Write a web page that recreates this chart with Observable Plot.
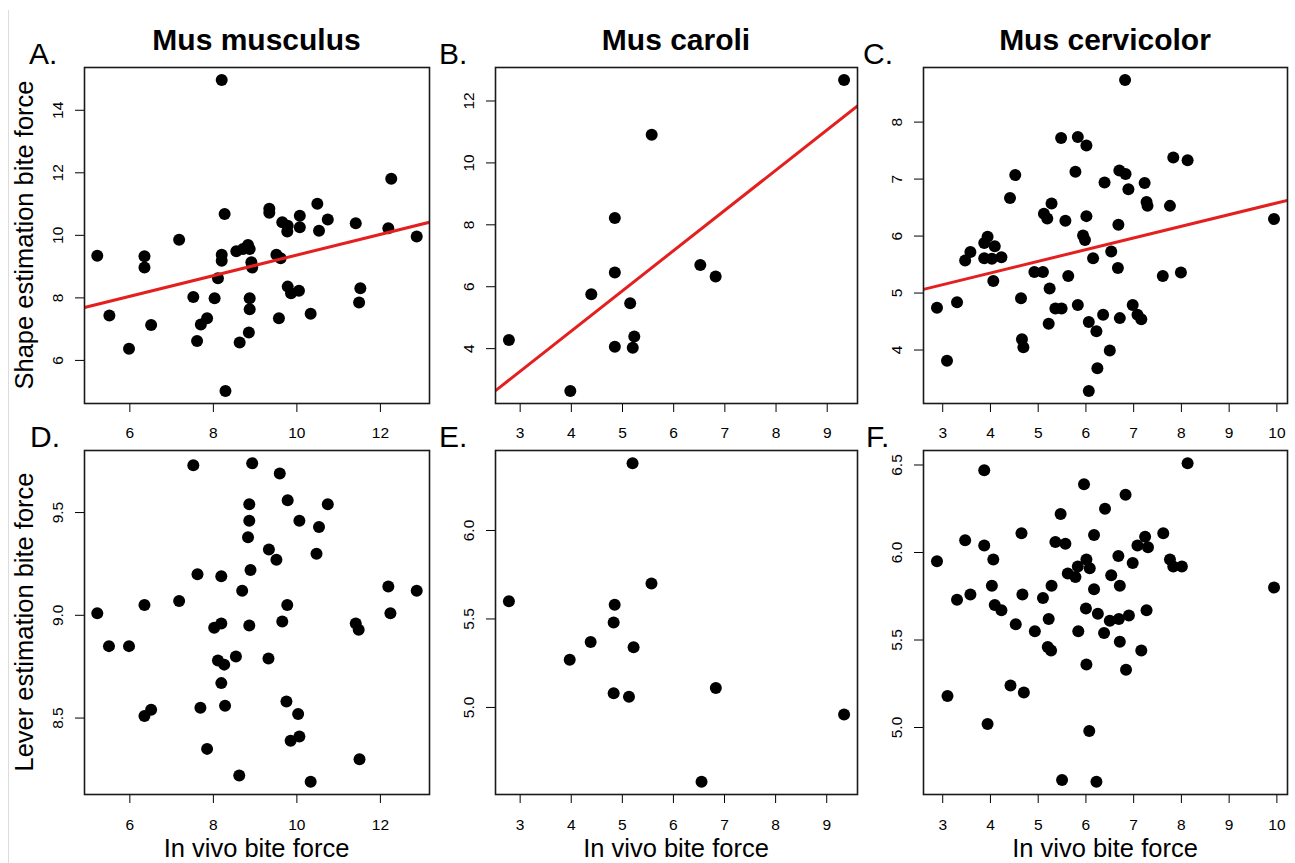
<!DOCTYPE html>
<html>
<head>
<meta charset="utf-8">
<script src="https://cdn.jsdelivr.net/npm/d3@7"></script>
<script src="https://cdn.jsdelivr.net/npm/@observablehq/plot@0.6"></script>
<style>
  html, body { margin: 0; padding: 0; background: #fff; }
  #page { position: relative; width: 1295px; height: 863px; overflow: hidden; background: #fff;
          font-family: "Liberation Sans", Arial, Helvetica, sans-serif; }
  .panel { position: absolute; }
  .panel svg { overflow: visible; }
  #edge { position: absolute; left: 8px; top: 10px; width: 0; height: 853px; border-left: 1px solid #dcdcdc; }
</style>
</head>
<body>
<div id="page"><div id="edge"></div></div>
<script>
// ---------- Data ----------
// Mus musculus: in vivo bite force vs shape estimation (A)
const musculusForce = [5.22,5.51,5.98,6.35,6.35,6.51,7.18,7.52,7.61,7.70,7.85,8.03,8.11,8.20,8.20,8.20,8.27,8.29,8.55,8.63,8.71,8.83,8.87,8.85,8.87,8.87,8.91,8.93,9.34,9.34,9.51,9.61,9.57,9.65,9.78,9.77,9.78,9.86,10.05,10.07,10.07,10.33,10.49,10.53,10.74,11.41,11.49,11.52,12.26,12.19,12.87];
const musculusShape = [9.35,7.44,6.37,9.33,8.97,7.13,9.86,8.03,6.62,7.15,7.35,7.99,8.63,14.97,9.38,9.19,10.68,5.02,9.49,6.57,9.56,9.69,9.56,6.89,7.99,7.64,9.14,8.97,10.85,10.72,9.38,9.27,7.35,10.42,10.31,10.12,8.36,8.15,8.23,10.63,10.26,7.49,11.01,10.15,10.51,10.39,7.85,8.31,11.81,10.23,9.96];
// Mus musculus: in vivo bite force vs lever estimation (D)
const musculusLeverForce = [5.22,5.50,5.98,6.35,6.35,6.51,7.18,7.52,7.62,7.69,7.85,8.02,8.19,8.11,8.19,8.26,8.19,8.28,8.54,8.62,8.69,8.86,8.86,8.83,8.89,8.86,8.93,9.33,9.32,9.51,9.59,9.65,9.77,9.78,9.75,9.85,10.03,10.06,10.06,10.33,10.47,10.53,10.74,11.41,11.48,11.50,12.19,12.24,12.87];
const musculusLever = [9.01,8.85,8.85,9.05,8.51,8.54,9.07,9.73,9.20,8.55,8.35,8.94,8.96,8.78,9.19,8.76,8.67,8.56,8.80,8.22,9.12,9.54,9.46,9.38,9.22,8.95,9.74,9.32,8.79,9.27,9.69,8.97,9.05,9.56,8.58,8.39,8.52,8.41,9.46,8.19,9.30,9.43,9.54,8.96,8.93,8.30,9.14,9.01,9.12];

// Mus caroli (B, E)
const caroliForce = [2.78,3.98,4.39,4.85,4.85,4.85,5.15,5.23,5.20,5.57,6.52,6.82,9.33];
const caroliShape = [4.28,2.63,5.76,8.22,6.46,4.06,5.47,4.39,4.03,10.91,6.70,6.33,12.68];
const caroliLeverForce = [2.78,3.97,4.38,4.83,4.85,4.83,5.13,5.22,5.20,5.57,6.55,6.83,9.34];
const caroliLever = [5.60,5.27,5.37,5.48,5.58,5.08,5.06,5.34,6.38,5.70,4.58,5.11,4.96];

// Mus cervicolor (C, F)
const cervicolorForce = [2.88,3.09,3.30,3.47,3.58,3.87,3.94,3.87,4.03,4.09,4.06,4.23,4.41,4.52,4.64,4.66,4.69,4.92,5.10,5.12,5.19,5.28,5.24,5.22,5.36,5.49,5.48,5.57,5.63,5.78,5.83,5.83,5.94,5.98,6.01,6.01,6.06,6.06,6.15,6.22,6.24,6.36,6.39,6.50,6.53,6.67,6.68,6.71,6.70,6.83,6.82,6.89,6.98,7.08,7.16,7.23,7.27,7.29,7.61,7.76,7.83,7.99,8.13,9.94];
const cervicolorShape = [4.74,3.81,4.84,5.57,5.72,5.88,5.99,5.61,5.60,5.82,5.21,5.63,6.67,7.07,4.91,4.19,4.05,5.37,5.37,6.39,6.31,6.57,5.08,4.46,4.73,4.73,7.72,6.27,5.30,7.13,7.74,4.79,6.01,5.93,6.35,7.59,3.28,4.49,5.61,4.33,3.68,4.62,6.94,3.99,5.73,5.44,6.20,4.56,7.15,7.09,8.74,6.82,4.79,4.62,4.54,6.93,6.60,6.53,5.30,6.53,7.38,5.36,7.33,6.30];
const cervicolorLeverForce = [2.88,3.10,3.30,3.47,3.58,3.87,3.87,3.94,4.03,4.06,4.09,4.23,4.42,4.53,4.65,4.67,4.70,4.93,5.10,5.22,5.20,5.27,5.28,5.36,5.47,5.50,5.57,5.62,5.78,5.83,5.84,5.96,6.01,6.00,6.01,6.08,6.07,6.17,6.17,6.22,6.25,6.38,6.40,6.50,6.53,6.68,6.69,6.71,6.71,6.83,6.84,6.90,6.98,7.08,7.16,7.24,7.30,7.27,7.62,7.76,7.83,8.01,8.13,9.94];
const cervicolorLever = [5.95,5.18,5.73,6.07,5.76,6.47,6.04,5.02,5.81,5.96,5.70,5.67,5.24,5.59,6.11,5.76,5.20,5.55,5.74,5.62,5.46,5.44,5.81,6.06,6.22,4.70,6.05,5.88,5.86,5.92,5.55,6.39,5.96,5.68,5.36,5.91,4.98,6.10,5.79,4.69,5.65,5.54,6.25,5.61,5.87,5.98,5.62,5.81,5.49,6.33,5.33,5.64,5.94,6.04,5.44,6.09,6.03,5.67,6.11,5.96,5.92,5.92,6.51,5.80];

// Regression lines (abline)
const musculusFit = {intercept: 6.07, slope: 0.33};
const caroliFit = {intercept: -0.63, slope: 1.30};
const cervicolorFit = {intercept: 4.532, slope: 0.205};

// Tick values
const musculusXTicks = [6, 8, 10, 12];
const caroliXTicks = [3, 4, 5, 6, 7, 8, 9];
const cervicolorXTicks = [3, 4, 5, 6, 7, 8, 9, 10];
const musculusShapeTicks = [6, 8, 10, 12, 14];
const caroliShapeTicks = [4, 6, 8, 10, 12];
const cervicolorShapeTicks = [4, 5, 6, 7, 8];
const musculusLeverTicks = [8.5, 9.0, 9.5];
const caroliLeverTicks = [5.0, 5.5, 6.0];
const cervicolorLeverTicks = [5.0, 5.5, 6.0, 6.5];

// Text
const speciesTitles = ["Mus musculus", "Mus caroli", "Mus cervicolor"];
const panelLetters = ["A.", "B.", "C.", "D.", "E.", "F."];
const yTitles = ["Shape estimation bite force", "Lever estimation bite force"];
const xTitle = "In vivo bite force";

// ---------- Layout ----------
const FONT = '"Liberation Sans", Arial, Helvetica, sans-serif';
const ML = 60, MT = 10, MR = 6, MB = 45;
const cols = [{left: 84, w: 345}, {left: 495, w: 362}, {left: 923, w: 364}];
const rows = [{top: 67, h: 336, pad: 14.7}, {top: 450, h: 344, pad: 15}];

// R-style axis range: data range extended by 4% each side
function rDomain(v) {
  const [a, b] = d3.extent(v);
  const p = (b - a) * 0.04;
  return [a - p, b + p];
}

const page = document.getElementById("page");

function panel(col, row, xs, ys, xTicks, yTicks, yFmt, fit) {
  const c = cols[col], r = rows[row];
  const data = xs.map((x, i) => ({x, y: ys[i]}));
  const xDomain = rDomain(xs), yDomain = rDomain(ys);
  const marks = [
    Plot.dot(data, {x: "x", y: "y", r: 6, fill: "#000", stroke: "none"})
  ];
  if (fit) {
    const lineData = xDomain.map(x => ({x, y: fit.intercept + fit.slope * x}));
    marks.push(Plot.line(lineData, {x: "x", y: "y", stroke: "#e3201f", strokeWidth: 3, clip: true}));
  }
  marks.push(Plot.frame({stroke: "#1a1a1a", strokeWidth: 1.6}));
  const svg = Plot.plot({
    width: ML + c.w + MR,
    height: MT + r.h + MB,
    marginLeft: ML, marginTop: MT, marginRight: MR, marginBottom: MB,
    style: {background: "transparent", color: "#000", fontFamily: FONT, fontSize: "15.5px", overflow: "visible"},
    x: {domain: xDomain, ticks: xTicks, tickSize: 9, tickPadding: r.pad, label: null, tickFormat: d3.format("d")},
    y: {domain: yDomain, ticks: yTicks, tickSize: 9, tickPadding: 12.5, tickRotate: -90, label: null, tickFormat: yFmt},
    marks
  });
  const div = document.createElement("div");
  div.className = "panel";
  div.style.left = (c.left - ML) + "px";
  div.style.top = (r.top - MT) + "px";
  div.appendChild(svg);
  page.appendChild(div);
}

const intFmt = d3.format("d");
const decFmt = d3.format(".1f");

panel(0, 0, musculusForce, musculusShape, musculusXTicks, musculusShapeTicks, intFmt, musculusFit);
panel(1, 0, caroliForce, caroliShape, caroliXTicks, caroliShapeTicks, intFmt, caroliFit);
panel(2, 0, cervicolorForce, cervicolorShape, cervicolorXTicks, cervicolorShapeTicks, intFmt, cervicolorFit);
panel(0, 1, musculusLeverForce, musculusLever, musculusXTicks, musculusLeverTicks, decFmt, null);
panel(1, 1, caroliLeverForce, caroliLever, caroliXTicks, caroliLeverTicks, decFmt, null);
panel(2, 1, cervicolorLeverForce, cervicolorLever, cervicolorXTicks, cervicolorLeverTicks, decFmt, null);

// ---------- Text overlay ----------
const overlay = d3.select(page).append("svg")
  .attr("width", 1295).attr("height", 863)
  .style("position", "absolute").style("left", 0).style("top", 0)
  .style("pointer-events", "none")
  .style("font-family", FONT);

const colCenters = cols.map(c => c.left + c.w / 2);
speciesTitles.forEach((t, i) => {
  overlay.append("text").attr("x", colCenters[i]).attr("y", 50)
    .attr("text-anchor", "middle").attr("font-weight", "bold").attr("font-size", 30).text(t);
});
const letterPos = [[29, 63.5], [439, 63.5], [863, 63.5], [30, 447], [439, 447], [866, 447]];
panelLetters.forEach((t, i) => {
  overlay.append("text").attr("x", letterPos[i][0]).attr("y", letterPos[i][1])
    .attr("font-size", 30).text(t);
});
const yTitleCenters = [rows[0].top + rows[0].h / 2, rows[1].top + rows[1].h / 2];
yTitles.forEach((t, i) => {
  overlay.append("text")
    .attr("transform", `translate(33,${yTitleCenters[i]}) rotate(-90)`)
    .attr("text-anchor", "middle").attr("font-size", 25.5).text(t);
});
colCenters.forEach(cx => {
  overlay.append("text").attr("x", cx).attr("y", 856.5)
    .attr("text-anchor", "middle").attr("font-size", 25.5).text(xTitle);
});
</script>
</body>
</html>
